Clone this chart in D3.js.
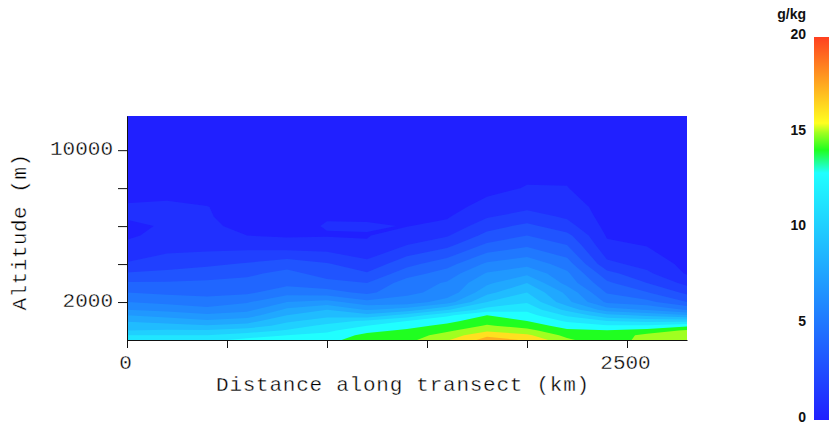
<!DOCTYPE html>
<html>
<head>
    <title>Specific humidity transect</title>
    <script src="https://d3js.org/d3.v7.min.js"></script>
    <style>
      html, body { margin: 0; background: #fff; }
      svg { display: block; }
      /* white outline eats into the glyphs so the mono font reads as a thin pen line */
      .plotText { font-family: "Liberation Mono", monospace; font-size: 21px; fill: #000; stroke: #fff; stroke-width: 0.35px; }
      .barText { font-family: "Liberation Sans", sans-serif; font-size: 14px; font-weight: bold; fill: #111; }
    </style>
</head>
<body>
<div id="my_dataviz"></div>
<script>

// altitude rows (m), surface first
var altitudes = [0, 250, 500, 750, 1000, 1300, 1600, 2000, 2500, 3000, 3500, 4000, 5000, 5500, 6000, 6500, 7000, 8000, 10000, 11800];

// distance of each profile along the transect (km)
var distances = [0, 200, 400, 600, 800, 1000, 1200, 1400, 1600, 1800, 2000, 2200, 2400, 2600, 2800];

// specific humidity (g/kg), one profile per distance
var q0    = [11.7, 11, 10, 9.5, 8.9, 8, 7, 6, 5, 4.1, 3.1, 2.1, 1.2, .85, .8, 1.1, 1.1, .6, .3, .1];
var q200  = [11.7, 11, 10.1, 9.4, 8.6, 7.6, 6.7, 5.7, 4.8, 4.1, 3.3, 2.5, 1.6, 1.3, 1.1, 1.1, 1.15, .7, .3, .1];
var q400  = [11.7, 11, 10.1, 9.1, 8.2, 7.2, 6.3, 5.4, 4.7, 4.2, 3.5, 2.8, 1.6, 1.3, 1.1, 1.05, 1.02, .7, .3, .1];
var q600  = [12.3, 11.5, 10.5, 9.4, 8.6, 7.5, 6.7, 5.9, 4.8, 4.3, 3.8, 3.1, 1.6, 1, .85, .75, .7, .5, .3, .1];
var q800  = [12.7, 12, 11.1, 10.4, 9.8, 9, 8.2, 7, 5.6, 4.7, 4.3, 3.6, 1.4, .9, .75, .65, .6, .5, .3, .1];
var q1000 = [12.6, 12.3, 11.8, 11.3, 10.5, 9.7, 9, 7.4, 5.4, 4.3, 3.6, 3.1, 1.4, .95, 1.05, .95, .7, .5, .3, .1];
var q1200 = [13.7, 13.3, 12.65, 12, 11.2, 9.3, 7.9, 6.3, 4.75, 4, 3.1, 2.3, 1.1, .95, 1.08, .9, .7, .5, .3, .1];
var q1400 = [13.7, 13.5, 13.2, 12.6, 12, 10.4, 8.5, 6.4, 5.8, 5.5, 4.55, 3.7, 2, 1.45, .97, .75, .6, .45, .3, .1];
var q1600 = [14.9, 14.4, 13.8, 13.3, 12.7, 11.8, 9.9, 7.5, 6.3, 6.1, 5.45, 4.6, 2.7, 1.9, 1.25, .9, .7, .5, .3, .1];
var q1800 = [16.4, 15.8, 14.8, 14.1, 13.6, 13, 11.4, 10, 8.7, 7.8, 7.1, 6.2, 4.2, 3.3, 2.6, 1.9, 1.3, .75, .4, .15];
var q2000 = [15.9, 15.2, 14.3, 13.6, 13, 12.4, 11.75, 10.9, 10, 9, 7.8, 6.7, 4.8, 4, 3.25, 2.4, 1.8, 1.05, .5, .2];
var q2200 = [14.2, 13.7, 13.2, 12.55, 11.85, 10.85, 9.7, 8.3, 7.75, 6.65, 6.2, 5.5, 4, 3.3, 2.4, 1.85, 1.55, 1.03, .55, .2];
var q2400 = [13.2, 13.3, 13.05, 12.15, 11, 9.3, 7.5, 5.8, 4.9, 4.2, 3.35, 2.25, 1.2, .9, .7, .6, .55, .45, .3, .1];
var q2600 = [14.5, 14.3, 13.4, 12.2, 10.7, 8.8, 6.9, 5.3, 4.05, 3, 2.2, 1.65, .95, .75, .6, .5, .45, .4, .3, .1];
var q2800 = [14.9, 14.7, 14.15, 12.75, 10.7, 8.15, 5.9, 4, 2.75, 1.7, .9, .7, .55, .45, .4, .35, .3, .25, .2, .1];
var profiles = [q0, q200, q400, q600, q800, q1000, q1200, q1400, q1600, q1800, q2000, q2200, q2400, q2600, q2800];

// contour levels and the colour filled above each of them
var levels = [0, 1, 2, 3, 4, 5, 6, 7, 8, 9, 10, 11, 12, 13, 14, 15, 16];
var levelColors = ["#2020ff", "#2030ff", "#2040ff", "#2054ff", "#2066ff", "#2078ff", "#2088ff", "#2098ff", "#20a8ff",
                   "#20bcff", "#20d0ff", "#20e6ff", "#20ffff", "#20ff20", "#a0ff20", "#ffe020", "#ffb020"];

var xTicks = [0, 500, 1000, 1500, 2000, 2500];
var xLabels = [0, 2500];
var yTicks = [2000, 4000, 6000, 8000, 10000];
var yLabels = [2000, 10000];

// colour bar
var barStops = [0, 12.9, 14.1, 15, 15.5, 20];
var barColors = ["#2020ff", "#20ffff", "#20ff20", "#a0ff20", "#ffff20", "#ff4020"];
var barTicks = [0, 5, 10, 15, 20];

var svg = d3.select("#my_dataviz")
  .append("svg")
    .attr("width", 838)
    .attr("height", 429);

var x = d3.scaleLinear().domain([0, 2800]).range([127, 687]);
var y = d3.scaleLinear().domain([0, 11800]).range([340, 116]);

// flat grid for d3.contours, row by row from the surface up
var grid = [];
altitudes.forEach(function(a, j) {
  profiles.forEach(function(p) { grid.push(p[j]); });
});

var contours = d3.contours()
  .size([distances.length, altitudes.length])
  .thresholds(levels.slice(1))(grid);

// d3.contours puts grid values at i + 0.5, map those back to the real axes
var colToPx = d3.scaleLinear()
  .domain(distances.map(function(d, i) { return i + 0.5; }))
  .range(distances.map(function(d) { return x(d); }))
  .clamp(true);
var rowToPx = d3.scaleLinear()
  .domain(altitudes.map(function(d, i) { return i + 0.5; }))
  .range(altitudes.map(function(d) { return y(d); }))
  .clamp(true);
var path = d3.geoPath(d3.geoTransform({
  point: function(a, b) { this.stream.point(colToPx(a), rowToPx(b)); }
}));

svg.append("rect")
  .attr("x", x(0))
  .attr("y", y(11800))
  .attr("width", x(2800) - x(0))
  .attr("height", y(0) - y(11800))
  .attr("fill", levelColors[0]);

svg.append("g")
  .selectAll("path")
  .data(contours)
  .enter().append("path")
    .attr("d", path)
    .attr("fill", function(d, i) { return levelColors[i + 1]; });

// axes
var xAxis = svg.append("g")
  .attr("transform", "translate(0,340)")
  .call(d3.axisBottom(x).tickValues(xTicks).tickSize(8).tickSizeOuter(0).tickPadding(6)
    .tickFormat(function(d) { return xLabels.indexOf(d) >= 0 ? d : ""; }));
var yAxis = svg.append("g")
  .attr("transform", "translate(127,0)")
  .call(d3.axisLeft(y).tickValues(yTicks).tickSize(9).tickSizeOuter(0).tickPadding(5)
    .tickFormat(function(d) { return yLabels.indexOf(d) >= 0 ? d : ""; }));

[xAxis, yAxis].forEach(function(ax) {
  ax.attr("font-family", null).attr("font-size", null);
  ax.selectAll("path, line").attr("stroke", "#111");
  ax.selectAll("text").attr("class", "plotText").attr("fill", null);
});
xAxis.selectAll("text").attr("dx", "-2");
yAxis.selectAll("text").attr("dy", "0.2em");

svg.append("text")
  .attr("class", "plotText")
  .attr("x", 403)
  .attr("y", 391)
  .attr("text-anchor", "middle")
  .style("letter-spacing", "0.75px")
  .text("Distance along transect (km)");

svg.append("text")
  .attr("class", "plotText")
  .attr("transform", "translate(26,232) rotate(-90)")
  .attr("text-anchor", "middle")
  .style("letter-spacing", "0.5px")
  .text("Altitude (m)");

// colour bar
var barScale = d3.scaleLinear().domain([0, 20]).range([420, 37]);

var grad = svg.append("defs").append("linearGradient")
  .attr("id", "barGrad")
  .attr("x1", 0).attr("x2", 0).attr("y1", 1).attr("y2", 0);
barStops.forEach(function(s, i) {
  grad.append("stop")
    .attr("offset", s / 20)
    .attr("stop-color", barColors[i]);
});

svg.append("rect")
  .attr("x", 814)
  .attr("y", barScale(20))
  .attr("width", 15)
  .attr("height", barScale(0) - barScale(20))
  .attr("fill", "url(#barGrad)");

var barAxis = svg.append("g")
  .attr("transform", "translate(806,-3)")
  .call(d3.axisLeft(barScale).tickValues(barTicks).tickSize(0).tickPadding(0));
barAxis.attr("font-family", null).attr("font-size", null);
barAxis.select(".domain").remove();
barAxis.selectAll("text").attr("class", "barText").attr("fill", null);

svg.append("text")
  .attr("class", "barText")
  .attr("x", 806)
  .attr("y", 19)
  .attr("text-anchor", "end")
  .text("g/kg");

</script>
</body>
</html>
